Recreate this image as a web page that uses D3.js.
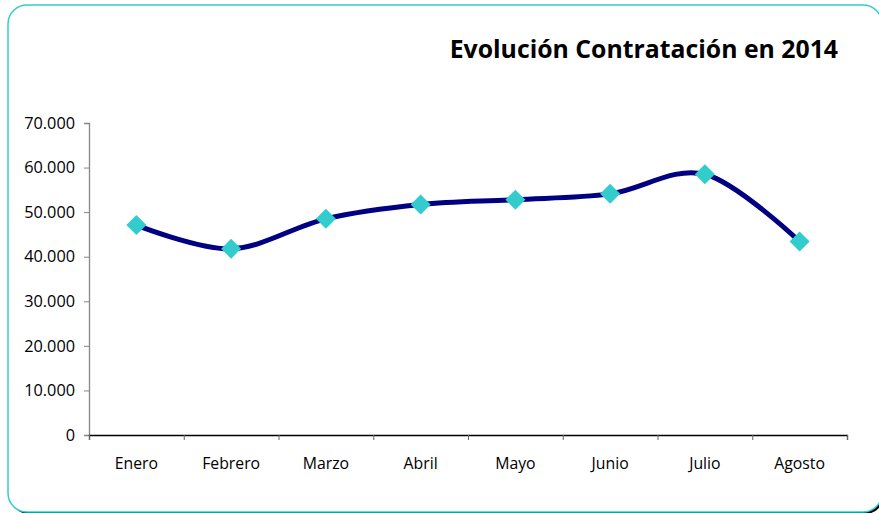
<!DOCTYPE html>
<html>
<head>
<meta charset="utf-8">
<script src="https://cdn.jsdelivr.net/npm/d3@7"></script>
<style>
  body { margin: 0; background: #fff; }
  text { font-family: 'Open Sans', sans-serif; }
</style>
</head>
<body>
<div id="chart"></div>
<script>
const months = ['Enero', 'Febrero', 'Marzo', 'Abril', 'Mayo', 'Junio', 'Julio', 'Agosto'];
const contracts = [47100, 41800, 48500, 51700, 52800, 54100, 58500, 43400];
const yTicks = [0, 10000, 20000, 30000, 40000, 50000, 60000, 70000];
const title = 'Evolución Contratación en 2014';

const width = 879;
const height = 513;
const margins = { top: 123, right: 32, bottom: 78, left: 89 };

const svg = d3.select('#chart')
  .append('svg')
  .attr('width', width)
  .attr('height', height);

// frame with a small shadow on the bottom right
svg.append('rect')
  .attr('x', 10).attr('y', 7)
  .attr('width', 874).attr('height', 507)
  .attr('rx', 19)
  .attr('fill', '#000');

svg.append('rect')
  .attr('x', 8).attr('y', 5)
  .attr('width', 874).attr('height', 507)
  .attr('rx', 19)
  .attr('fill', '#fff')
  .attr('stroke', '#33cccc')
  .attr('stroke-width', 1.5);

svg.append('text')
  .attr('x', 838)
  .attr('y', 58)
  .attr('text-anchor', 'end')
  .style('font-size', '24.8px')
  .style('font-weight', 'bold')
  .style('fill', '#000')
  .text(title);

const g = svg.append('g')
  .attr('transform', `translate(${margins.left}, ${margins.top})`);

const xScale = d3.scaleBand()
  .domain(months)
  .range([0, 758])
  .padding(0);

const yScale = d3.scaleLinear()
  .domain([0, 70000])
  .range([312, 0]);

const locale = d3.formatLocale({ decimal: ',', thousands: '.', grouping: [3], currency: ['', ''] });
const fmt = locale.format(',');

// y axis
const yAxis = g.append('g')
  .call(d3.axisLeft(yScale).tickValues(yTicks).tickSize(5).tickPadding(9).tickFormat(fmt));
yAxis.select('.domain').attr('stroke', '#868686').attr('stroke-width', 1.3);
yAxis.selectAll('.tick line').attr('stroke', '#868686');
yAxis.selectAll('text')
  .style('font-size', '16.3px')
  .style('font-family', "'Open Sans', sans-serif")
  .attr('fill', '#000');

// x axis: boundary ticks
const edgeScale = d3.scaleLinear().domain([0, months.length]).range([0, 758]);
const xEdges = g.append('g')
  .attr('transform', `translate(0, ${yScale(0)})`)
  .call(d3.axisBottom(edgeScale).tickValues(d3.range(months.length + 1)).tickSize(5).tickFormat(''));
xEdges.select('.domain').attr('stroke', '#000').attr('stroke-width', 1.3);
xEdges.selectAll('.tick line').attr('stroke', '#666');

// x axis: month labels
const xLabels = g.append('g')
  .attr('transform', `translate(0, ${yScale(0)})`)
  .call(d3.axisBottom(xScale).tickSize(0).tickPadding(23));
xLabels.select('.domain').remove();
xLabels.selectAll('text')
  .style('font-size', '15.8px')
  .style('font-family', "'Open Sans', sans-serif")
  .attr('fill', '#000');

const xPos = (d, i) => xScale(months[i]) + xScale.bandwidth() / 2;

const line = d3.line()
  .x(xPos)
  .y((d) => yScale(d))
  .curve(d3.curveCardinal.tension(0));

g.append('path')
  .datum(contracts)
  .attr('d', line)
  .attr('fill', 'none')
  .attr('stroke', '#000080')
  .attr('stroke-width', 5)
  .attr('stroke-linejoin', 'round');

g.selectAll('.marker')
  .data(contracts)
  .enter()
  .append('path')
  .attr('class', 'marker')
  .attr('d', d3.symbol().type(d3.symbolSquare).size(200))
  .attr('transform', (d, i) => `translate(${xPos(d, i)}, ${yScale(d)}) rotate(45)`)
  .attr('fill', '#33cccc');
</script>
</body>
</html>
